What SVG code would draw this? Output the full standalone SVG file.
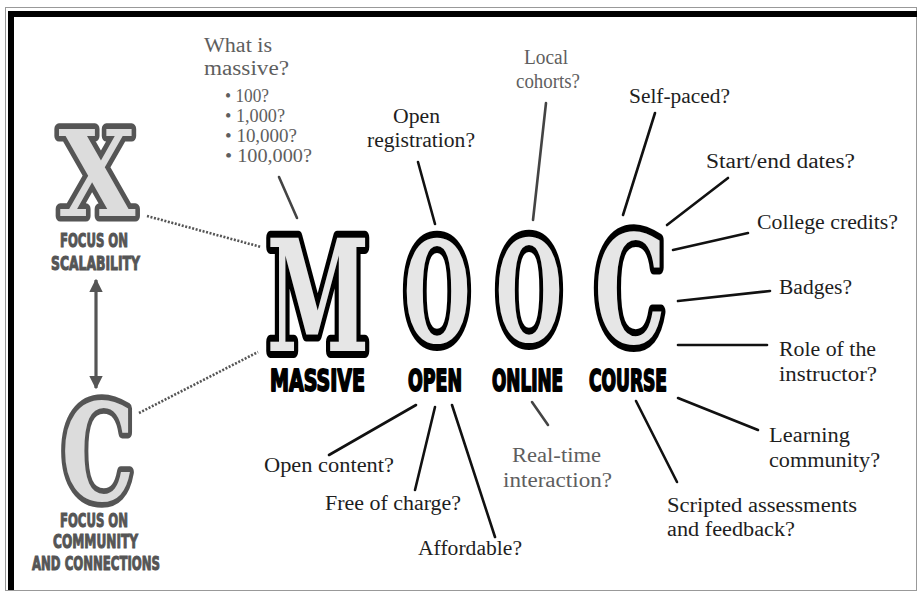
<svg xmlns="http://www.w3.org/2000/svg" width="918" height="593" viewBox="0 0 918 593">
<style>
.lbl{font-family:"Liberation Serif","DejaVu Serif",serif;font-size:20px;fill:#1e1e1e}
.gry{fill:#5e5e5e}
.sm{font-size:18px}
.big{font-family:"DejaVu Serif","Liberation Serif",serif;font-weight:bold;fill:#e6e6e6;stroke:#000;stroke-width:14;stroke-linejoin:round;paint-order:stroke;text-anchor:middle}
.side{font-family:"DejaVu Serif","Liberation Serif",serif;font-weight:bold;fill:#dcdcdc;stroke:#555;stroke-width:11;stroke-linejoin:round;paint-order:stroke;text-anchor:middle}
.word{font-family:"DejaVu Sans Condensed","DejaVu Sans","Liberation Sans",sans-serif;font-weight:bold;font-size:30px;fill:#000;stroke:#000;stroke-width:1.8;stroke-linejoin:round}
.cap{font-family:"DejaVu Sans Condensed","DejaVu Sans","Liberation Sans",sans-serif;font-weight:bold;font-size:20px;fill:#555;stroke:#555;stroke-width:1;text-anchor:middle}
.ln{stroke:#111;stroke-width:2.6;fill:none;stroke-linecap:round}
.lg{stroke:#444}
.dot{stroke:#555;stroke-width:2.6;stroke-dasharray:2 1.6;fill:none}
</style>
<defs>
<marker id="ah" viewBox="0 0 10 10" refX="9" refY="5" markerWidth="4.2" markerHeight="4.2" orient="auto-start-reverse" markerUnits="strokeWidth">
<path d="M0,0 L10,5 L0,10 Z" fill="#555"/>
</marker>
</defs>
<rect width="918" height="593" fill="#fff"/>
<g id="frame">
<rect x="5.5" y="7.5" width="911" height="583" fill="none" stroke="#999" stroke-width="1"/>
<rect x="8" y="11" width="909" height="6" fill="#000"/>
<rect x="8" y="11" width="6" height="579" fill="#000"/>
</g>
<g id="connectors">
<line class="ln lg" x1="279" y1="177" x2="297" y2="218"/>
<line class="ln" x1="418" y1="162" x2="435" y2="224"/>
<line class="ln lg" x1="546" y1="103" x2="533" y2="220"/>
<line class="ln" x1="655" y1="113" x2="623" y2="215"/>
<line class="ln" x1="728" y1="178" x2="667" y2="225"/>
<line class="ln" x1="748" y1="233" x2="673" y2="250"/>
<line class="ln" x1="770" y1="291" x2="678" y2="301"/>
<line class="ln" x1="678" y1="345" x2="767" y2="345"/>
<line class="ln" x1="678" y1="398" x2="758" y2="430"/>
<line class="ln" x1="636" y1="401" x2="677" y2="482"/>
<line class="ln lg" x1="532" y1="402" x2="548" y2="425"/>
<line class="ln" x1="416" y1="405" x2="329" y2="455"/>
<line class="ln" x1="435" y1="407" x2="415" y2="490"/>
<line class="ln" x1="452" y1="405" x2="495" y2="537"/>
<line class="dot" x1="147" y1="216" x2="261" y2="247"/>
<line class="dot" x1="139" y1="413" x2="258" y2="352"/>
<line x1="96" y1="280" x2="96" y2="388" stroke="#555" stroke-width="3.2" marker-start="url(#ah)" marker-end="url(#ah)"/>
</g>
<g id="node-x">
<text class="side" transform="translate(97,216) scale(0.84,1.02)" font-size="118">X</text>
<text class="cap" x="94" y="247" textLength="68" lengthAdjust="spacingAndGlyphs">FOCUS ON</text>
<text class="cap" x="95.5" y="270" textLength="89" lengthAdjust="spacingAndGlyphs">SCALABILITY</text>
</g>
<g id="node-c">
<text class="side" transform="translate(98,500) scale(0.72,1.05)" font-size="128">C</text>
<text class="cap" x="94" y="527" textLength="68" lengthAdjust="spacingAndGlyphs">FOCUS ON</text>
<text class="cap" x="95.5" y="548" textLength="85" lengthAdjust="spacingAndGlyphs">COMMUNITY</text>
<text class="cap" x="96" y="570" textLength="128" lengthAdjust="spacingAndGlyphs">AND CONNECTIONS</text>
</g>
<g id="node-m">
<text class="big" transform="translate(318,351) scale(0.6,1)" font-size="155">M</text>
<text class="word" x="270" y="391" textLength="95" lengthAdjust="spacingAndGlyphs">MASSIVE</text>
</g>
<g id="node-o1">
<text class="big" transform="translate(437,342) scale(0.55,1)" font-size="140">O</text>
<text class="word" x="408" y="391" textLength="54" lengthAdjust="spacingAndGlyphs">OPEN</text>
</g>
<g id="node-o2">
<text class="big" transform="translate(529,341) scale(0.55,1)" font-size="140">O</text>
<text class="word" x="492" y="391" textLength="71" lengthAdjust="spacingAndGlyphs">ONLINE</text>
</g>
<g id="node-c2">
<text class="big" transform="translate(630,343) scale(0.6,1)" font-size="150">C</text>
<text class="word" x="589" y="391" textLength="78" lengthAdjust="spacingAndGlyphs">COURSE</text>
</g>
<g id="labels">
<text class="lbl gry" x="204" y="52" textLength="68" lengthAdjust="spacingAndGlyphs">What is</text>
<text class="lbl gry" x="204" y="75" textLength="85" lengthAdjust="spacingAndGlyphs">massive?</text>
<text class="lbl gry sm" x="225" y="102" textLength="44" lengthAdjust="spacingAndGlyphs">• 100?</text>
<text class="lbl gry sm" x="225" y="122" textLength="60" lengthAdjust="spacingAndGlyphs">• 1,000?</text>
<text class="lbl gry sm" x="225" y="142" textLength="72" lengthAdjust="spacingAndGlyphs">• 10,000?</text>
<text class="lbl gry sm" x="225" y="162" textLength="87" lengthAdjust="spacingAndGlyphs">• 100,000?</text>
<text class="lbl" x="393" y="123" textLength="47" lengthAdjust="spacingAndGlyphs">Open</text>
<text class="lbl" x="367" y="147" textLength="108" lengthAdjust="spacingAndGlyphs">registration?</text>
<text class="lbl gry" x="524" y="64" textLength="44" lengthAdjust="spacingAndGlyphs">Local</text>
<text class="lbl gry" x="516" y="88" textLength="64" lengthAdjust="spacingAndGlyphs">cohorts?</text>
<text class="lbl" x="629" y="103" textLength="101" lengthAdjust="spacingAndGlyphs">Self-paced?</text>
<text class="lbl" x="706" y="168" textLength="149" lengthAdjust="spacingAndGlyphs">Start/end dates?</text>
<text class="lbl" x="757" y="229" textLength="141" lengthAdjust="spacingAndGlyphs">College credits?</text>
<text class="lbl" x="779" y="294" textLength="73" lengthAdjust="spacingAndGlyphs">Badges?</text>
<text class="lbl" x="779" y="356" textLength="97" lengthAdjust="spacingAndGlyphs">Role of the</text>
<text class="lbl" x="779" y="381" textLength="98" lengthAdjust="spacingAndGlyphs">instructor?</text>
<text class="lbl" x="769" y="442" textLength="81" lengthAdjust="spacingAndGlyphs">Learning</text>
<text class="lbl" x="769" y="467" textLength="111" lengthAdjust="spacingAndGlyphs">community?</text>
<text class="lbl" x="667" y="512" textLength="190" lengthAdjust="spacingAndGlyphs">Scripted assessments</text>
<text class="lbl" x="667" y="536" textLength="128" lengthAdjust="spacingAndGlyphs">and feedback?</text>
<text class="lbl gry" x="512" y="462" textLength="89" lengthAdjust="spacingAndGlyphs">Real-time</text>
<text class="lbl gry" x="503" y="487" textLength="109" lengthAdjust="spacingAndGlyphs">interaction?</text>
<text class="lbl" x="264" y="472" textLength="130" lengthAdjust="spacingAndGlyphs">Open content?</text>
<text class="lbl" x="325" y="510" textLength="136" lengthAdjust="spacingAndGlyphs">Free of charge?</text>
<text class="lbl" x="418" y="555" textLength="104" lengthAdjust="spacingAndGlyphs">Affordable?</text>
</g>
</svg>
